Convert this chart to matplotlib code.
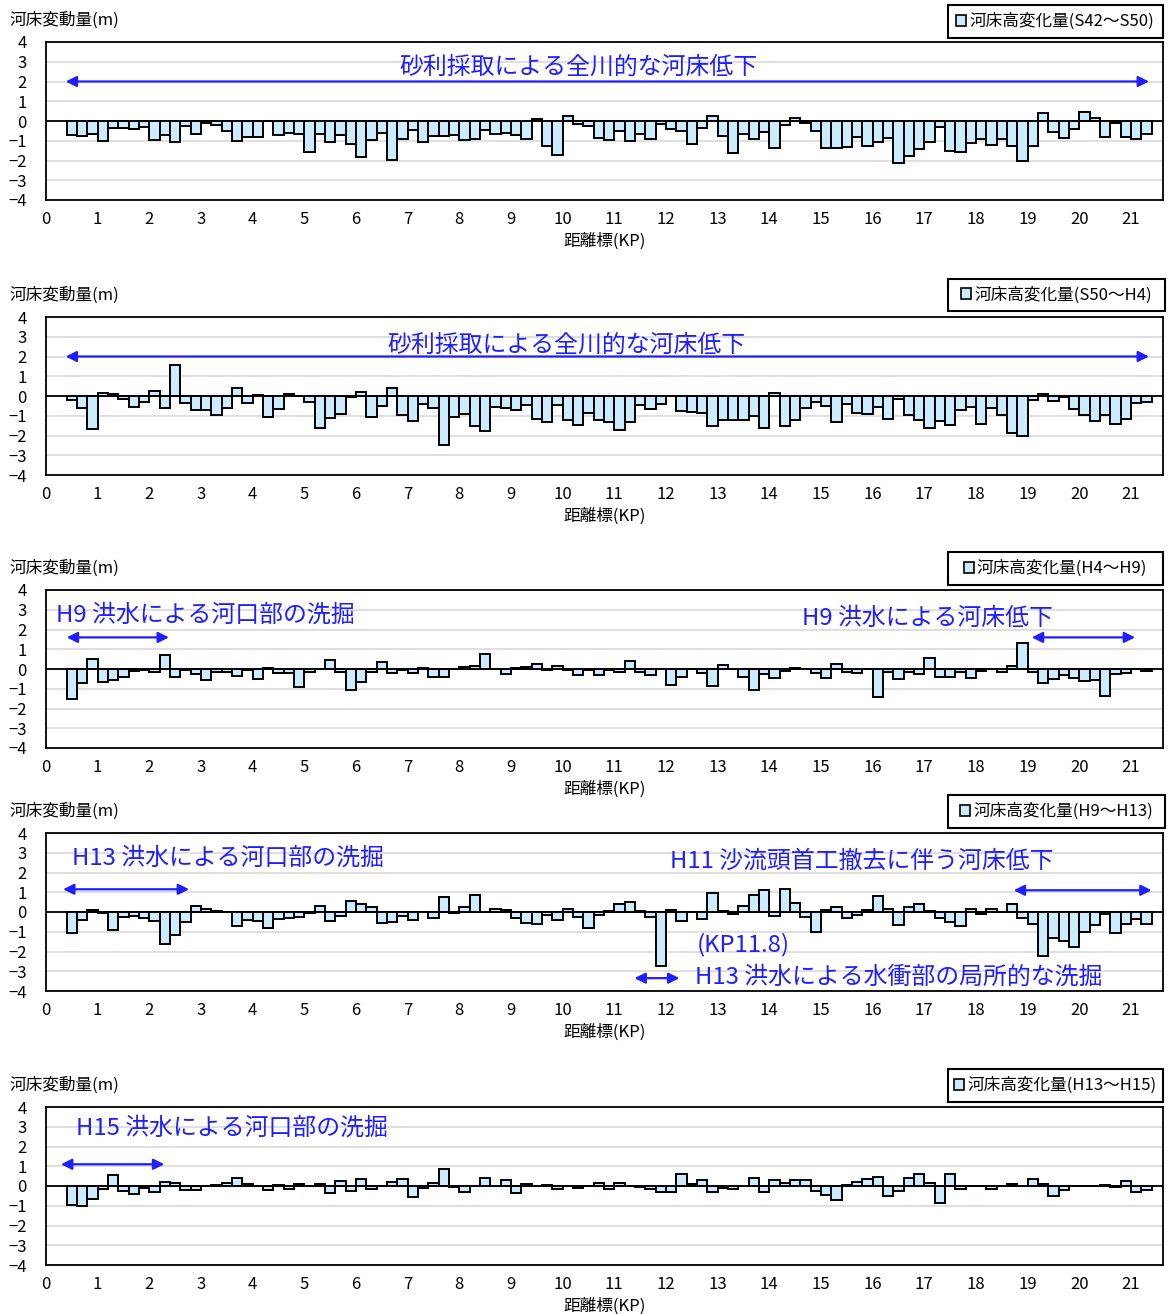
import numpy as np
import matplotlib
matplotlib.use("Agg")
import matplotlib.pyplot as plt
from matplotlib.patches import Patch, Rectangle

plt.rcParams["font.family"] = ["Noto Sans CJK JP", "DejaVu Sans"]

# KP of the left edge of each 200 m section
kp_left = np.round(0.4 + 0.2 * np.arange(105), 1)

dz_s42_s50 = [
    -0.69, -0.78, -0.66, -1.03, -0.33, -0.34, -0.43, -0.31, -0.95, -0.71,
    -1.07, -0.26, -0.64, -0.12, -0.21, -0.53, -1.02, -0.83, -0.83, 0.0,
    -0.71, -0.63, -0.68, -1.56, -0.68, -1.07, -0.69, -1.15, -1.83, -0.98,
    -0.63, -1.97, -0.93, -0.46, -1.07, -0.76, -0.76, -0.71, -0.97, -0.90,
    -0.46, -0.64, -0.59, -0.71, -0.90, 0.10, -1.27, -1.73, 0.25, -0.17,
    -0.25, -0.88, -0.97, -0.50, -1.00, -0.68, -0.93, -0.17, -0.42, -0.50,
    -1.15, -0.34, 0.25, -0.76, -1.60, -0.68, -0.93, -0.56, -1.35, -0.20,
    0.13, -0.08, -0.50, -1.35, -1.35, -1.32, -0.80, -1.27, -1.07, -0.88,
    -2.12, -1.75, -1.40, -1.05, -0.29, -1.53, -1.58, -1.10, -0.93, -1.19,
    -0.93, -1.27, -2.03, -1.27, 0.39, -0.54, -0.85, -0.42, 0.46, 0.17,
    -0.81, -0.08, -0.80, -0.93, -0.64,
]

dz_s50_h4 = [
    -0.22, -0.59, -1.69, 0.17, 0.12, -0.14, -0.54, -0.29, 0.25, -0.63,
    1.56, -0.34, -0.73, -0.73, -0.98, -0.63, 0.41, -0.37, 0.03, -1.05,
    -0.68, 0.12, 0.0, -0.29, -1.64, -1.10, -0.93, -0.03, 0.20, -1.07,
    -0.51, 0.41, -0.95, -1.29, -0.42, -0.61, -2.49, -1.07, -0.90, -1.53,
    -1.78, -0.54, -0.61, -0.73, -0.47, -1.14, -1.31, -0.46, -1.19, -1.46,
    -0.85, -1.19, -1.31, -1.73, -1.32, -0.47, -0.64, -0.42, 0.0, -0.76,
    -0.81, -0.85, -1.53, -1.19, -1.19, -1.19, -1.02, -1.61, 0.14, -1.53,
    -1.19, -0.63, -0.29, -0.51, -1.31, -0.42, -0.85, -0.93, -0.54, -1.14,
    -0.17, -0.98, -1.19, -1.61, -1.27, -1.49, -0.71, -0.54, -1.44, -0.59,
    -0.98, -1.86, -2.00, -0.20, 0.08, -0.25, -0.07, -0.68, -0.98, -1.27,
    -0.98, -1.41, -1.14, -0.34, -0.29,
]

dz_h4_h9 = [
    -1.50, -0.72, 0.53, -0.67, -0.55, -0.43, -0.10, -0.05, -0.13, 0.70,
    -0.38, -0.03, -0.25, -0.55, -0.17, -0.17, -0.33, -0.03, -0.52, 0.05,
    -0.18, -0.22, -0.92, -0.13, 0.0, 0.48, -0.13, -1.05, -0.68, -0.13,
    0.33, -0.18, -0.05, -0.18, 0.05, -0.38, -0.42, 0.02, 0.08, 0.15,
    0.75, 0.0, -0.25, 0.05, 0.12, 0.25, -0.05, 0.15, -0.05, -0.30,
    -0.05, -0.30, -0.05, -0.13, 0.42, -0.13, -0.30, 0.0, -0.80, -0.43,
    0.0, -0.18, -0.85, 0.18, -0.02, -0.38, -1.05, -0.27, -0.47, -0.08,
    0.03, 0.0, -0.18, -0.47, 0.23, -0.15, -0.22, 0.0, -1.43, -0.13,
    -0.52, -0.15, -0.27, 0.58, -0.38, -0.42, -0.13, -0.47, -0.08, 0.0,
    -0.17, 0.15, 1.33, -0.13, -0.72, -0.52, -0.30, -0.47, -0.60, -0.55,
    -1.38, -0.27, -0.22, 0.0, -0.08,
]

dz_h9_h13 = [
    -1.08, -0.38, 0.08, -0.05, -0.92, -0.25, -0.20, -0.30, -0.47, -1.63,
    -1.17, -0.50, 0.30, 0.13, 0.05, 0.0, -0.70, -0.38, -0.47, -0.80,
    -0.33, -0.30, -0.25, -0.05, 0.28, -0.45, -0.20, 0.58, 0.42, 0.25,
    -0.58, -0.53, -0.20, -0.38, 0.0, -0.30, 0.78, -0.03, 0.25, 0.88,
    0.0, 0.13, 0.08, -0.28, -0.58, -0.62, -0.13, -0.38, 0.13, -0.25,
    -0.83, -0.13, 0.05, 0.38, 0.50, 0.05, -0.25, -2.75, 0.08, -0.45,
    0.0, -0.33, 0.97, 0.05, -0.12, 0.28, 0.87, 1.13, -0.22, 1.17,
    0.45, -0.25, -1.03, 0.08, 0.25, -0.30, -0.13, 0.08, 0.80, 0.17,
    -0.67, 0.25, 0.38, 0.03, -0.30, -0.50, -0.72, 0.17, -0.12, 0.17,
    0.0, 0.38, -0.28, -0.63, -2.22, -1.33, -1.45, -1.75, -1.00, -0.67,
    -0.08, -1.08, -0.62, -0.33, -0.63,
]

dz_h13_h15 = [
    -0.95, -1.00, -0.67, -0.17, 0.55, -0.25, -0.38, -0.12, -0.30, 0.22,
    0.15, -0.22, -0.22, 0.0, 0.03, 0.13, 0.42, 0.08, 0.0, -0.22,
    0.03, -0.13, 0.08, 0.0, 0.08, -0.33, 0.25, -0.25, 0.33, -0.13,
    0.0, 0.22, 0.37, -0.55, -0.12, 0.15, 0.88, -0.03, -0.28, 0.0,
    0.38, 0.0, 0.28, -0.33, 0.12, 0.0, 0.03, -0.17, 0.0, -0.12,
    0.0, 0.17, -0.17, 0.13, 0.0, -0.05, -0.17, -0.28, -0.28, 0.62,
    0.12, 0.30, -0.30, -0.12, -0.17, 0.0, 0.42, -0.30, 0.30, 0.17,
    0.28, 0.28, -0.25, -0.47, -0.72, 0.03, 0.20, 0.33, 0.47, -0.53,
    -0.25, 0.42, 0.62, 0.17, -0.88, 0.62, -0.13, 0.0, 0.0, -0.13,
    0.0, 0.08, 0.0, 0.33, 0.12, -0.50, -0.22, 0.0, 0.0, 0.0,
    0.05, -0.03, 0.25, -0.28, -0.20,
]

series = [dz_s42_s50, dz_s50_h4, dz_h4_h9, dz_h9_h13, dz_h13_h15]
periods = ["S42～S50", "S50～H4", "H4～H9", "H9～H13", "H13～H15"]

# Blue annotations per panel: texts (x, y, string, ha) and arrows (x0, x1, y)
notes_text = [
    [(10.3, 2.7, "砂利採取による全川的な河床低下", "center")],
    [(10.07, 2.55, "砂利採取による全川的な河床低下", "center")],
    [(0.2, 2.7, "H9 洪水による河口部の洗掘", "left"),
     (14.63, 2.55, "H9 洪水による河床低下", "left")],
    [(0.5, 2.7, "H13 洪水による河口部の洗掘", "left"),
     (12.07, 2.55, "H11 沙流頭首工撤去に伴う河床低下", "left"),
     (12.59, -1.67, "(KP11.8)", "left"),
     (12.57, -3.3, "H13 洪水による水衝部の局所的な洗掘", "left")],
    [(0.58, 2.95, "H15 洪水による河口部の洗掘", "left")],
]
notes_arrow = [
    [(0.38, 21.35, 2.0)],
    [(0.38, 21.35, 2.0)],
    [(0.4, 2.38, 1.6), (19.08, 21.08, 1.6)],
    [(0.33, 2.77, 1.15), (18.73, 21.4, 1.1), (11.39, 12.26, -3.35)],
    [(0.29, 2.29, 1.1)],
]

W, H = 1168, 1314
fig = plt.figure(figsize=(W / 100, H / 100), dpi=100)

tops = [42, 317, 590, 833, 1107]
ax_left, ax_right, ax_h = 46, 1163, 158
# legend frame: left, right, top offset and bottom offset above the plot area
legend_box = [(948, 1163, 37, 4), (948, 1165, 38, 6), (948, 1163, 38, 5),
              (948, 1165, 38, 5), (948, 1163, 38, 5)]

blue = "#1E1EFF"
bar_face = "#CCEBFF"

for i, (vals, period) in enumerate(zip(series, periods)):
    top = tops[i]
    ax = fig.add_axes([ax_left / W, 1 - (top + ax_h) / H,
                       (ax_right - ax_left) / W, ax_h / H])
    ax.set_xlim(0, 21.62)
    ax.set_ylim(-4, 4)
    ax.set_yticks(range(-4, 5))
    ax.set_xticks(range(0, 22))
    ax.grid(axis="y", color="#D9D9D9", lw=1.2)
    ax.set_axisbelow(True)
    ax.bar(kp_left, vals, width=0.2, align="edge", color=bar_face,
           edgecolor="black", linewidth=1.4, zorder=2)
    ax.axhline(0, color="black", lw=1.3, zorder=3)
    for s in ax.spines.values():
        s.set_linewidth(1.3)
    ax.tick_params(axis="y", length=0, pad=14, labelsize=12)
    ax.tick_params(axis="x", length=0, pad=8, labelsize=12)
    ax.set_xlabel("距離標(KP)", fontsize=12, labelpad=3)

    fig.text(10 / W, 1 - (top - 22) / H, "河床変動量(m)", fontsize=12,
             ha="left", va="center")

    # boxed legend above the plot's top right corner
    bx0, bx1, off_t, off_b = legend_box[i]
    y_top, y_bot = top - off_t, top - off_b
    ax.add_patch(Rectangle((bx0 / W, 1 - y_bot / H), (bx1 - bx0) / W,
                           (y_bot - y_top) / H, transform=fig.transFigure,
                           facecolor="white", edgecolor="black", lw=1.5,
                           clip_on=False, zorder=5))
    leg = ax.legend(handles=[Patch(facecolor=bar_face, edgecolor="black", lw=1.2)],
                    labels=[f"河床高変化量({period})"],
                    loc="center",
                    bbox_to_anchor=((bx0 + bx1) / 2 / W, 1 - (y_top + y_bot) / 2 / H),
                    bbox_transform=fig.transFigure,
                    fontsize=12, frameon=False,
                    handlelength=0.6, handleheight=0.6, handletextpad=0.2,
                    borderpad=0.0, borderaxespad=0)
    leg.set_zorder(6)

    for (x, y, s, ha) in notes_text[i]:
        ax.text(x, y, s, color=blue, fontsize=17.2, ha=ha, va="center", zorder=4)
    for (x0, x1, y) in notes_arrow[i]:
        ax.annotate("", xy=(x1, y), xytext=(x0, y),
                    arrowprops=dict(arrowstyle="<|-|>", color=blue, lw=1.6,
                                    mutation_scale=16, shrinkA=0, shrinkB=0),
                    zorder=4)

fig.savefig("out.png", dpi=100)
